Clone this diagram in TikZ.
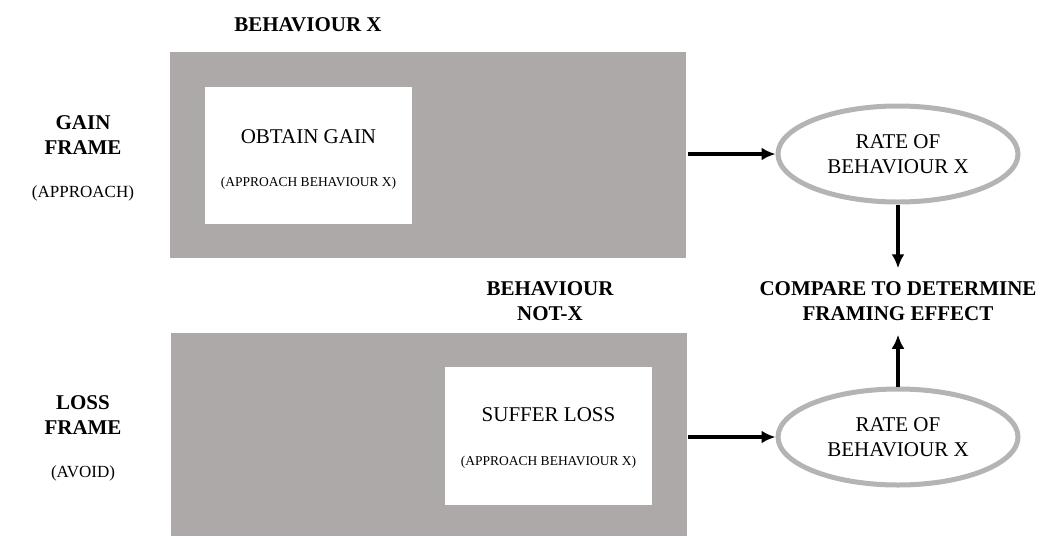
\documentclass[tikz,border=0pt]{standalone}
\usepackage{fontspec}
\setmainfont{Liberation Serif}
\usetikzlibrary{arrows.meta,shapes.geometric}
\definecolor{framegray}{RGB}{173,169,169}
\definecolor{rategray}{RGB}{180,180,180}

\begin{document}
\begin{tikzpicture}[x=1pt,y=-1pt,line width=3.5pt,>={Latex[length=14pt,width=13pt]},
  big/.style={font=\fontsize{21}{25}\selectfont,inner sep=0pt,align=center},
  bigbold/.style={big,font=\fontsize{21}{25}\selectfont\bfseries},
  mid/.style={big,font=\fontsize{17}{20}\selectfont},
  tiny/.style={big,font=\fontsize{13.5}{16}\selectfont},
  framebox/.style={fill=framegray,minimum width=516pt,minimum height=206pt,inner sep=0pt},
  choicebox/.style={fill=white,minimum width=207pt,minimum height=137pt,inner sep=0pt},
  ratenode/.style={ellipse,draw=rategray,line width=5pt,minimum width=240pt,
    minimum height=96pt,big}]
\useasboundingbox (0,0) rectangle (1047,536);
% ---------- gain frame ----------
\node[bigbold] (behx) at (308,25) {BEHAVIOUR X};
\node[framebox] (gainframe) at (428,155) {};
\node[choicebox] (gainbox) at (308.5,155.5) {};
\node[big] (gaintitle) at (308.5,137) {OBTAIN GAIN};
\node[tiny] (gainsub) at (308.5,183) {(APPROACH BEHAVIOUR X)};
\node[bigbold] (gainlabel) at (83,135.5) {GAIN\\FRAME};
\node[mid] (gainmode) at (83,193) {(APPROACH)};
% ---------- loss frame ----------
\node[bigbold] (behnotx) at (550,301.5) {BEHAVIOUR\\NOT-X};
\node[framebox,minimum height=203pt] (lossframe) at (428.5,434.5) {};
\node[choicebox,minimum height=138pt] (lossbox) at (548.5,436) {};
\node[big] (losstitle) at (548.5,415) {SUFFER LOSS};
\node[tiny] (losssub) at (548.5,462) {(APPROACH BEHAVIOUR X)};
\node[bigbold] (losslabel) at (83,415.5) {LOSS\\FRAME};
\node[mid] (lossmode) at (83,473) {(AVOID)};
% ---------- rates and comparison ----------
\node[ratenode] (rategain) at (898,154) {RATE OF\\BEHAVIOUR X};
\node[ratenode] (rateloss) at (898,437) {RATE OF\\BEHAVIOUR X};
\node[bigbold,minimum height=63pt] (compare) at (898,301.5)
  {COMPARE TO DETERMINE\\FRAMING EFFECT};
\draw[->] (gainframe.east |- rategain) -- (rategain.west);
\draw[->] (lossframe.east |- rateloss) -- (rateloss.west);
\draw[->] (rategain.south) -- (compare.north);
\draw[->] (rateloss.north) -- (compare.south);
\end{tikzpicture}
\end{document}
